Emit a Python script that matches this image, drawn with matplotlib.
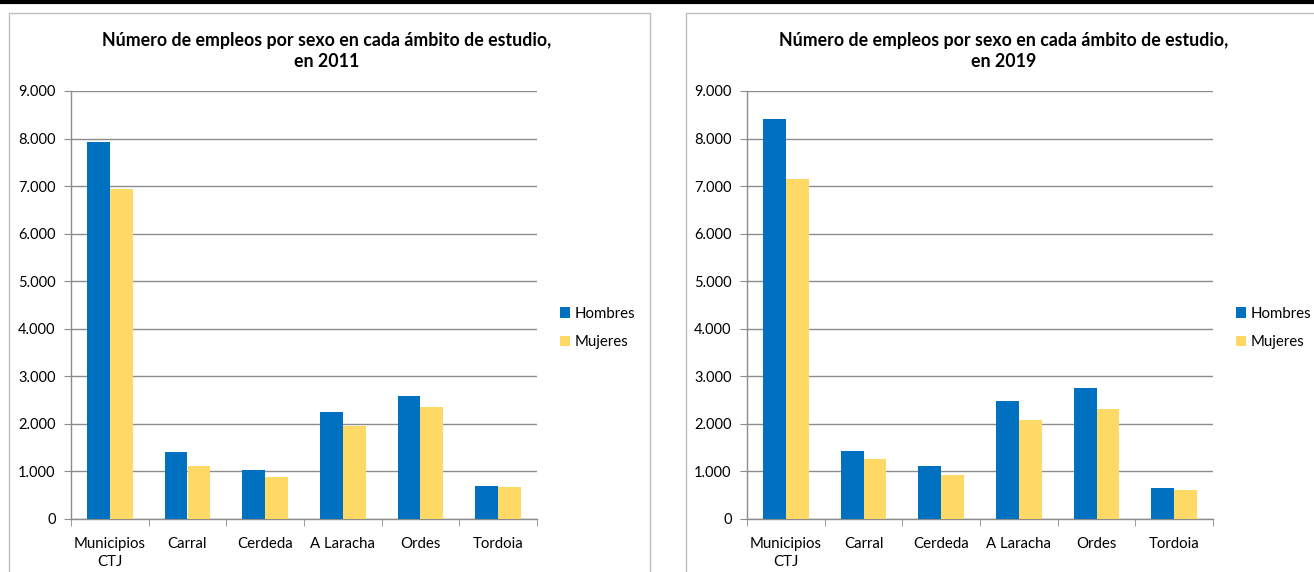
import matplotlib.pyplot as plt
import matplotlib.patches as mpatches
from matplotlib.lines import Line2D
from matplotlib.ticker import FuncFormatter, MultipleLocator, FixedLocator
import numpy as np

# data
categorias = ["Municipios\nCTJ", "Carral", "Cerdeda", "A Laracha", "Ordes", "Tordoia"]
hombres_2011 = [7920, 1400, 1020, 2240, 2590, 700]
mujeres_2011 = [6940, 1120, 880, 1960, 2345, 668]
hombres_2019 = [8415, 1425, 1120, 2490, 2750, 660]
mujeres_2019 = [7155, 1263, 926, 2090, 2307, 603]
anios = ["2011", "2019"]

AZUL = "#0070C0"
AMARILLO = "#FFD966"
GRIS = "#8C8C8C"

plt.rcParams["font.family"] = ["Lato", "DejaVu Sans"]

W, H = 1314, 572
fig = plt.figure(figsize=(W / 100, H / 100), dpi=100)


def fx(px):
    return px / W


def fy(py):
    return 1 - py / H


# thick black line at the very top
fig.add_artist(Line2D([0, 1], [fy(2), fy(2)], color="black", lw=3, transform=fig.transFigure))

# chart frames
for x0, x1 in [(9, 650), (686, 1330)]:
    fig.add_artist(mpatches.Rectangle((fx(x0), fy(580)), fx(x1 - x0), fy(13) - fy(580),
                                      transform=fig.transFigure, fill=False,
                                      edgecolor="#BFBFBF", lw=1))

fmt = FuncFormatter(lambda v, p: f"{int(v):,}".replace(",", "."))

# (axes left px, title centre px, data)
paneles = [
    (71, 327, hombres_2011, mujeres_2011, anios[0]),
    (747, 1004, hombres_2019, mujeres_2019, anios[1]),
]

x = np.arange(len(categorias))
bw = 0.292

for ax_left, tcx, hom, muj, anio in paneles:
    ax = fig.add_axes([fx(ax_left), fy(519), fx(466), fy(91) - fy(519)])
    ax.bar(x - bw / 2, hom, bw, color=AZUL, label="Hombres", zorder=3)
    ax.bar(x + bw / 2, muj, bw, color=AMARILLO, label="Mujeres", zorder=3)
    ax.set_xlim(-0.5, len(categorias) - 0.5)
    ax.set_ylim(0, 9000)
    ax.yaxis.set_major_locator(MultipleLocator(1000))
    ax.yaxis.set_major_formatter(fmt)
    ax.grid(axis="y", color=GRIS, lw=1, zorder=0)
    ax.set_axisbelow(True)
    for s in ["top", "right"]:
        ax.spines[s].set_visible(False)
    for s in ["left", "bottom"]:
        ax.spines[s].set_color(GRIS)
        ax.spines[s].set_linewidth(1)
    ax.set_xticks(x)
    ax.set_xticklabels(categorias, fontsize=10.8, linespacing=1.35)
    ax.xaxis.set_minor_locator(FixedLocator(np.arange(-0.5, len(categorias), 1.0)))
    ax.tick_params(axis="x", which="major", length=0, pad=13)
    ax.tick_params(axis="x", which="minor", length=5, color=GRIS)
    ax.tick_params(axis="y", length=5, color=GRIS, labelsize=10.5, pad=6)

    fig.text(fx(tcx), fy(51),
             "Número de empleos por sexo en cada ámbito de estudio,\nen " + anio,
             ha="center", va="center", fontsize=12.8, fontweight="bold", linespacing=1.35)

    ax.legend(loc="center left", bbox_to_anchor=(fx(ax_left + 466 + 9), fy(328)),
              bbox_transform=fig.transFigure, frameon=False, fontsize=10.8,
              handlelength=0.7, handleheight=0.7, handletextpad=0.3, labelspacing=0.95)

fig.savefig("out.png", dpi=100)
